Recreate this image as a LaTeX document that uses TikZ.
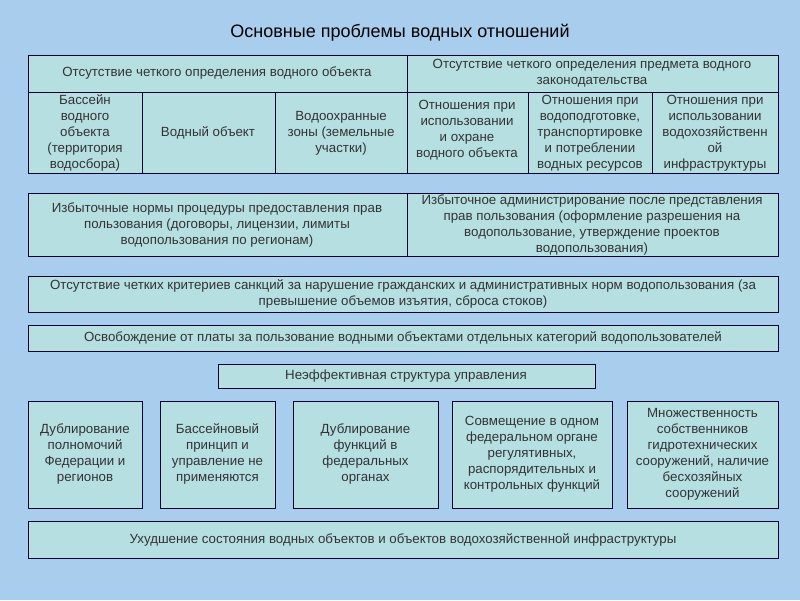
\documentclass[tikz,border=0pt]{standalone}
\usepackage{fontspec}
\setmainfont{Liberation Sans}
\begin{document}
\begin{tikzpicture}[x=1pt,y=-1pt,
 cell/.style={draw=black!80!blue,line width=0.8pt,fill=boxfill},
 txt/.style={font=\fontsize{13.3}{16}\selectfont,text=black!80,align=center,inner sep=0pt}]
\definecolor{bg}{HTML}{A9CDEC}
\definecolor{boxfill}{HTML}{B6DFE2}
\fill[bg] (0,0) rectangle (800,600);
\useasboundingbox (0,0) rectangle (800,600);
\node[font=\fontsize{18}{20}\selectfont] (title) at (400,33) {Основные проблемы водных отношений};
% table 1
\foreach \a/\b in {28/407,407/778} \draw[cell] (\a,55) rectangle (\b,92);
\foreach \a/\b in {28/142,142/275,275/407,407/528,528/652,652/778} \draw[cell] (\a,92) rectangle (\b,173);
\node[txt] (t1) at (217,73) {Отсутствие четкого определения водного объекта};
\node[txt] (t2) at (592,73) {Отсутствие четкого определения предмета водного\\законодательства};
\node[txt] (c1) at (85,133) {Бассейн\\водного\\объекта\\(территория\\водосбора)};
\node[txt] (c2) at (208,133) {Водный объект};
\node[txt] (c3) at (341,133) {Водоохранные\\зоны (земельные\\участки)};
\node[txt] (c4) at (467,130) {Отношения при\\использовании\\и охране\\водного объекта};
\node[txt] (c5) at (590,133) {Отношения при\\водоподготовке,\\транспортировке\\и потреблении\\водных ресурсов};
\node[txt] (c6) at (715,133) {Отношения при\\использовании\\водохозяйственн\\ой\\инфраструктуры};
% box 2
\draw[cell] (28,193) rectangle (407,256);
\draw[cell] (407,193) rectangle (778,256);
\node[txt] (b1) at (217,225) {Избыточные нормы процедуры предоставления прав\\пользования (договоры, лицензии, лимиты\\водопользования по регионам)};
\node[txt] (b2) at (592,225) {Избыточное администрирование после представления\\прав пользования (оформление разрешения на\\водопользование, утверждение проектов\\водопользования)};
\draw[cell] (28,276) rectangle (778,312);
\node[txt] (b3) at (403,294) {Отсутствие четких критериев санкций за нарушение гражданских и административных норм водопользования (за\\превышение объемов изъятия, сброса стоков)};
\draw[cell] (28,325) rectangle (778,351);
\node[txt] (b4) at (403,338) {Освобождение от платы за пользование водными объектами отдельных категорий водопользователей};
\draw[cell] (218,364) rectangle (595,388);
\node[txt] (b5) at (406,376) {Неэффективная структура управления};
\foreach \a/\b/\t [count=\i] in {28/142/{Дублирование\\полномочий\\Федерации и\\регионов},160/275/{Бассейновый\\принцип и\\управление не\\применяются},293/438/{Дублирование\\функций в\\федеральных\\органах},452/612/{Совмещение в одном\\федеральном органе\\регулятивных,\\распорядительных и\\контрольных функций},627/778/{Множественность\\собственников\\гидротехнических\\сооружений, наличие\\бесхозяйных\\сооружений}}{
 \draw[cell] (\a,401) rectangle (\b,508);
 \node[txt] (r\i) at ({(\a+\b)/2},454) {\t};}
\draw[cell] (28,521) rectangle (778,558);
\node[txt] (b6) at (403,540) {Ухудшение состояния водных объектов и объектов водохозяйственной инфраструктуры};
\end{tikzpicture}
\end{document}
